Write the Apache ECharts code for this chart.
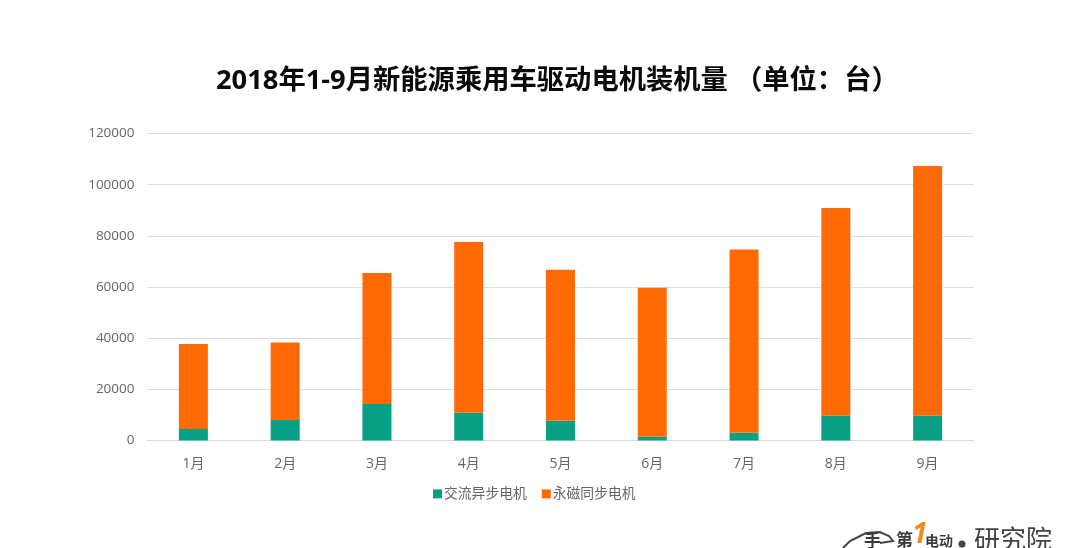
<!DOCTYPE html>
<html><head><meta charset="utf-8">
<style>html,body{margin:0;padding:0;background:#fff}#c{width:1080px;height:548px}</style>
<script src="https://cdn.jsdelivr.net/npm/echarts@6/dist/echarts.min.js"></script>
</head><body><div id="c"></div>
<script>
const titleText = '2018年1-9月新能源乘用车驱动电机装机量 （单位：台）';
const categories = ['1月','2月','3月','4月','5月','6月','7月','8月','9月'];
const seriesNames = ['交流异步电机','永磁同步电机'];
const acValues = [4500,8000,14300,10800,7700,1500,3000,9800,9800];
const pmValues = [33200,30300,51200,66800,59000,58200,71700,81100,97500];
const FONT = '"Open Sans","Noto Sans CJK SC",sans-serif';
const chart = echarts.init(document.getElementById('c'), null, {renderer:'canvas'});
chart.setOption({
  animation:false,
  backgroundColor:'#fff',
  title:{text:titleText,left:216,top:68,padding:0,
    textStyle:{fontFamily:FONT,fontSize:27.3,fontWeight:'bold',color:'#0a0a0a'}},
  legend:{left:433,top:487,padding:0,itemWidth:9,itemHeight:9,itemGap:15,icon:'rect',
    data:seriesNames,
    textStyle:{fontFamily:FONT,fontSize:13.8,color:'#666',padding:[0,0,0,-3]}},
  grid:{left:147.5,right:106.5,top:133.5,bottom:107.5,containLabel:false},
  xAxis:{type:'category',data:categories,
    axisLine:{lineStyle:{color:'#d9d9d9',width:1}},axisTick:{show:false},
    axisLabel:{fontFamily:FONT,fontSize:14,color:'#666',margin:17}},
  yAxis:{type:'value',min:0,max:120000,interval:20000,
    axisLine:{show:false},axisTick:{show:false},
    splitLine:{lineStyle:{color:'#dedede',width:1}},
    axisLabel:{fontFamily:FONT,fontSize:13.5,color:'#666',margin:13,padding:[2,0,0,0],formatter:v=>String(v)}},
  series:[
    {name:seriesNames[0],type:'bar',stack:'t',barWidth:29,data:acValues,itemStyle:{color:'#08a084'}},
    {name:seriesNames[1],type:'bar',stack:'t',barWidth:29,data:pmValues,itemStyle:{color:'#ff6a06'}}
  ],
  graphic:[
    {type:'text',x:896,y:533,style:{text:'第',fontFamily:FONT,fontSize:17,fontWeight:'bold',fill:'#3a3a3a'}},
    {type:'text',x:912,y:521,style:{text:'1',fontFamily:FONT,fontSize:28,fontWeight:'bold',fontStyle:'italic',fill:'#f08a24'}},
    {type:'text',x:925,y:535,style:{text:'电动',fontFamily:FONT,fontSize:14,fontWeight:'bold',fill:'#3a3a3a'}},
    {type:'circle',shape:{cx:962,cy:544,r:3.5},style:{fill:'#444'}},
    {type:'text',x:974,y:529,style:{text:'研究院',fontFamily:FONT,fontSize:26,fill:'#444'}},
    {type:'polyline',shape:{points:[[843,548],[850,541],[866,533],[880,532],[889,536],[893,541],[880,543]]},style:{fill:'none',stroke:'#444',lineWidth:2}},
    {type:'text',x:864,y:534,style:{text:'手',fontFamily:FONT,fontSize:17,fontWeight:'bold',fill:'#3a3a3a'}}
  ]
});
</script></body></html>
